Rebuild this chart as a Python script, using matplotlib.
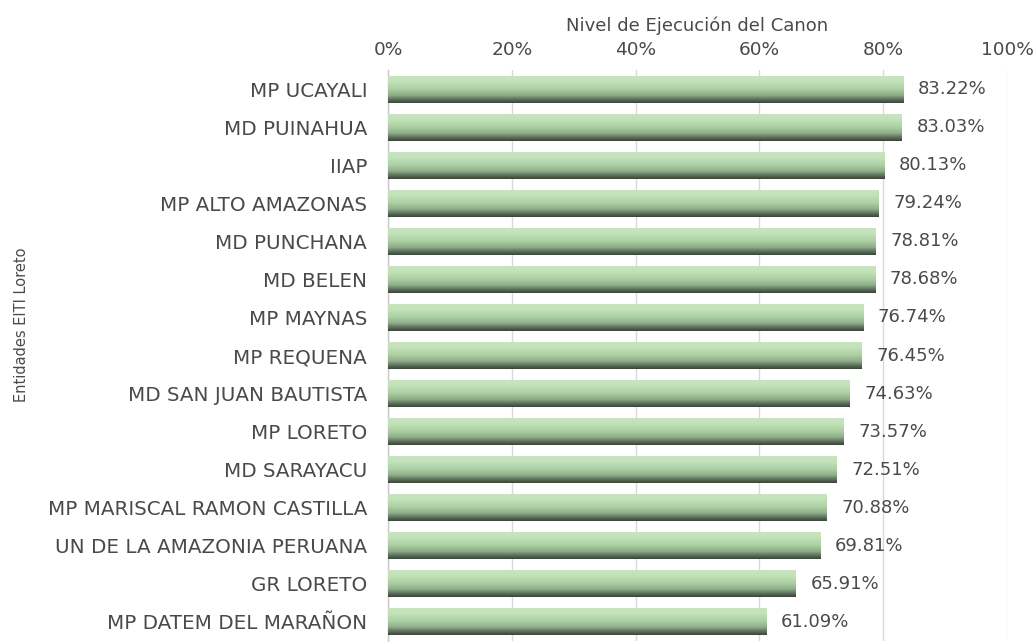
import numpy as np
import matplotlib
matplotlib.use("Agg")
import matplotlib.pyplot as plt
from matplotlib.colors import LinearSegmentedColormap

entities = ["MP UCAYALI", "MD PUINAHUA", "IIAP", "MP ALTO AMAZONAS", "MD PUNCHANA",
            "MD BELEN", "MP MAYNAS", "MP REQUENA", "MD SAN JUAN BAUTISTA", "MP LORETO",
            "MD SARAYACU", "MP MARISCAL RAMON CASTILLA", "UN DE LA AMAZONIA PERUANA",
            "GR LORETO", "MP DATEM DEL MARAÑON"]
values = [83.22, 83.03, 80.13, 79.24, 78.81, 78.68, 76.74, 76.45, 74.63, 73.57,
          72.51, 70.88, 69.81, 65.91, 61.09]
xticks = [0, 20, 40, 60, 80, 100]
xtick_labels = ["0%", "20%", "40%", "60%", "80%", "100%"]

plt.rcParams['font.family'] = ['DejaVu Sans']
txt = '#4a4a4a'

fig = plt.figure(figsize=(10.34, 6.42), dpi=100)
ax = fig.add_axes([388/1034, 1-641/642, (1007-388)/1034, (641-70)/642])

n = len(entities)
pos = np.arange(n)[::-1]
h = 0.71
bars = ax.barh(pos, values, height=h, color='none', edgecolor='none', zorder=2)

cmap = LinearSegmentedColormap.from_list('cyl', [
    (0.0, '#c9e4c1'), (0.22, '#c3e2ba'), (0.5, '#accfa3'),
    (0.72, '#8fae89'), (0.88, '#5b6f5b'), (1.0, '#394539')])
grad = np.linspace(0, 1, 64).reshape(-1, 1)
for b in bars:
    x0, y0 = b.get_x(), b.get_y()
    w, hh = b.get_width(), b.get_height()
    im = ax.imshow(grad, cmap=cmap, aspect='auto', origin='upper',
                   extent=(x0, x0 + w, y0, y0 + hh), zorder=3, interpolation='bilinear')
    im.set_clip_path(b)

for p, v in zip(pos, values):
    ax.text(v + 2.4, p, f"{v:.2f}%", va='center', ha='left', fontsize=13, color=txt, zorder=4)

ax.set_xlim(0, 100)
ax.set_ylim(-0.5, n - 0.5)
ax.set_yticks(pos)
ax.set_yticklabels(entities, fontsize=14.3, color=txt)
ax.set_xticks(xticks)
ax.set_xticklabels(xtick_labels, fontsize=13.3, color=txt)
ax.xaxis.tick_top()
ax.xaxis.set_label_position('top')
ax.set_xlabel("Nivel de Ejecución del Canon", fontsize=13, color=txt, labelpad=7)
ax.set_ylabel("Entidades EITI Loreto", fontsize=10.5, color=txt)
ax.yaxis.set_label_coords((29 - 388) / 619, (641 - 325) / 571)
ax.tick_params(axis='y', length=0, pad=15)
ax.tick_params(axis='x', length=0, pad=8)
ax.grid(axis='x', color='#d9d9d9', linewidth=1, zorder=0)
ax.set_axisbelow(True)
for s in ['top', 'right', 'bottom']:
    ax.spines[s].set_visible(False)
ax.spines['left'].set_color('#c8c8c8')
ax.spines['left'].set_linewidth(1)

fig.savefig('out.png', dpi=100)
